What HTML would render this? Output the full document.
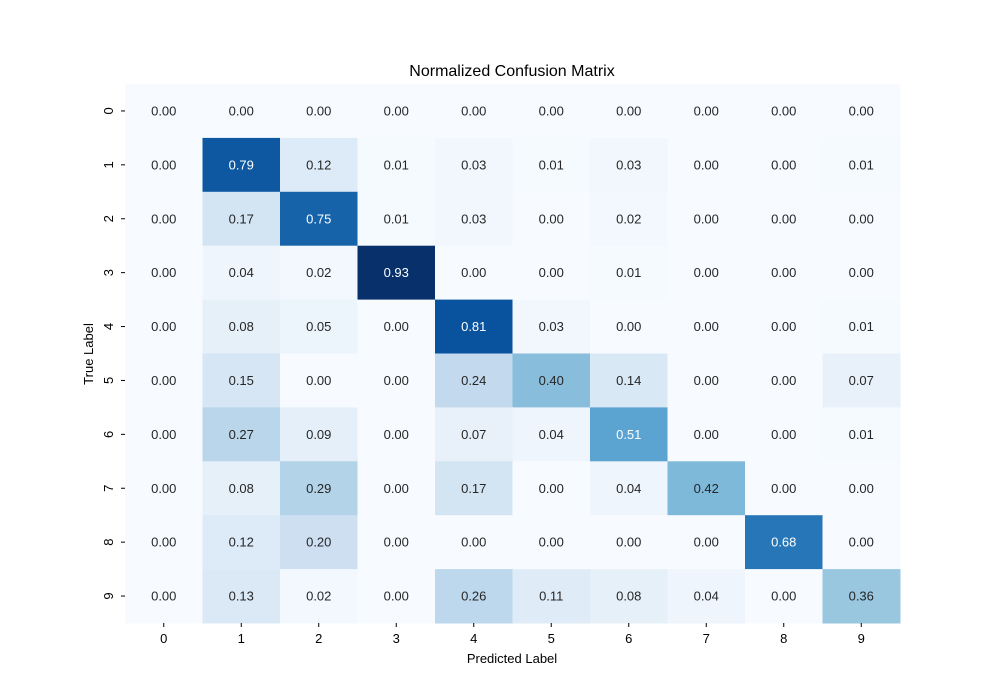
<!DOCTYPE html>
<html><head><meta charset="utf-8"><style>
body{margin:0;background:#fff;}
svg{display:block;font-family:"Liberation Sans","DejaVu Sans",sans-serif;}
</style></head><body>
<svg id="chart" width="1000" height="700">
<text x="512" y="76" text-anchor="middle" font-size="16" fill="#000">Normalized Confusion Matrix</text>
<g id="cells"></g>
<g id="axes"></g>
<text x="512" y="663" text-anchor="middle" font-size="13">Predicted Label</text>
<text x="0" y="0" transform="translate(93,354) rotate(-90)" text-anchor="middle" font-size="13">True Label</text>
</svg>
<script>
const xLabels = ["0","1","2","3","4","5","6","7","8","9"];
const yLabels = ["0","1","2","3","4","5","6","7","8","9"];
const row0 = [0.00,0.00,0.00,0.00,0.00,0.00,0.00,0.00,0.00,0.00];
const row1 = [0.00,0.79,0.12,0.01,0.03,0.01,0.03,0.00,0.00,0.01];
const row2 = [0.00,0.17,0.75,0.01,0.03,0.00,0.02,0.00,0.00,0.00];
const row3 = [0.00,0.04,0.02,0.93,0.00,0.00,0.01,0.00,0.00,0.00];
const row4 = [0.00,0.08,0.05,0.00,0.81,0.03,0.00,0.00,0.00,0.01];
const row5 = [0.00,0.15,0.00,0.00,0.24,0.40,0.14,0.00,0.00,0.07];
const row6 = [0.00,0.27,0.09,0.00,0.07,0.04,0.51,0.00,0.00,0.01];
const row7 = [0.00,0.08,0.29,0.00,0.17,0.00,0.04,0.42,0.00,0.00];
const row8 = [0.00,0.12,0.20,0.00,0.00,0.00,0.00,0.00,0.68,0.00];
const row9 = [0.00,0.13,0.02,0.00,0.26,0.11,0.08,0.04,0.00,0.36];
const matrix = [row0,row1,row2,row3,row4,row5,row6,row7,row8,row9];

const NS="http://www.w3.org/2000/svg";
const L=125,R=900,T=84,B=623;
const cw=(R-L)/xLabels.length, ch=(B-T)/yLabels.length;
const xPos=i=>L+i*cw, yPos=j=>T+j*ch;
const stops=["#f7fbff","#deebf7","#c6dbef","#9ecae1","#6baed6","#4292c6","#2171b5","#08519c","#08306b"];
function hex(h){return [1,3,5].map(i=>parseInt(h.substr(i,2),16));}
let vmax=0;matrix.forEach(r=>r.forEach(v=>{if(v>vmax)vmax=v;}));
function color(v){let t=Math.max(0,Math.min(1,v/vmax))*(stops.length-1);let i=Math.min(Math.floor(t),stops.length-2);let f=t-i;let a=hex(stops[i]),b=hex(stops[i+1]);return "rgb("+a.map((c,k)=>Math.round(c+(b[k]-c)*f)).join(",")+")";}
function lum(v){const c=color(v).match(/\d+/g).map(Number).map(x=>{x/=255;return x<=0.03928?x/12.92:Math.pow((x+0.055)/1.055,2.4)});return 0.2126*c[0]+0.7152*c[1]+0.0722*c[2];}
function mk(tag,attrs){const e=document.createElementNS(NS,tag);for(const k in attrs)e.setAttribute(k,attrs[k]);return e;}
const cells=document.getElementById("cells"),axes=document.getElementById("axes");
matrix.forEach((row,j)=>row.forEach((v,i)=>{
  const r=mk("rect",{x:xPos(i),y:yPos(j),width:cw+0.5,height:ch+0.5,fill:color(v)});
  
  
  cells.appendChild(r);
  const t=mk("text",{x:xPos(i)+cw/2,y:yPos(j)+ch/2+4.5,"text-anchor":"middle","font-size":"13",fill:lum(v)>0.408?"#262626":"#ffffff"});
  t.textContent=v.toFixed(2);
  
  
  cells.appendChild(t);
}));
xLabels.forEach((lab,i)=>{
  const x=xPos(i)+cw/2;
  const tk=mk("line",{x1:x,x2:x,y1:B,y2:B+4,stroke:"#000","stroke-width":1});
  
  
  axes.appendChild(tk);
  const t=mk("text",{x:x,y:B+20,"text-anchor":"middle","font-size":"13"});
  t.textContent=lab;
  
  
  axes.appendChild(t);
});
yLabels.forEach((lab,j)=>{
  const y=yPos(j)+ch/2;
  const tk=mk("line",{x1:L-4,x2:L,y1:y,y2:y,stroke:"#000","stroke-width":1});
  
  
  axes.appendChild(tk);
  const t=mk("text",{x:0,y:0,transform:"translate("+(L-12)+","+y+") rotate(-90)","text-anchor":"middle","font-size":"13"});
  t.textContent=lab;
  
  
  axes.appendChild(t);
});
</script>
</body></html>
